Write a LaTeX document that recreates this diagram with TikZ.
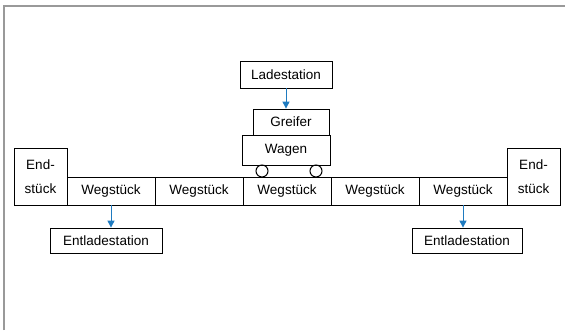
\documentclass[tikz,border=0pt]{standalone}
\usepackage{fontspec}
\setmainfont{Liberation Sans}
\usepackage{tikz}
\usetikzlibrary{positioning,arrows.meta,calc}

\definecolor{pfeilblau}{HTML}{1F7BC0}
\tikzset{
  kasten/.style={draw, line width=0.8pt, inner sep=0pt, align=center,
    font=\fontsize{13.5}{24}\selectfont},
  pfeil/.style={-{Triangle[width=7pt,length=7pt]}, pfeilblau, line width=1pt},
}

\begin{document}
\begin{tikzpicture}[x=1pt, y=-1pt]
  \useasboundingbox (0,0) rectangle (565,330);
  \draw[gray!80, line width=1.5pt] (4,330) -- (4,6) -- (565,6);

  % Fahrweg
  \node[kasten, minimum width=53pt, minimum height=57pt] (endL) at (40.5,176.5) {End-\\stück};
  \foreach \i in {1,...,5} {
    \node[kasten, minimum width=88pt, minimum height=28pt] (weg\i) at ({23+88*\i},191) {Wegstück};
  }
  \node[kasten, minimum width=53pt, minimum height=57pt] (endR) at (533.5,176.5) {End-\\stück};

  % Wagen mit Greifer
  \node[kasten, minimum width=88pt, minimum height=30pt] (wagen) at (286,150) {Wagen};
  \node[kasten, minimum width=76pt, minimum height=26pt] (greif) at (291,122) {Greifer};
  \node[kasten, minimum width=92pt, minimum height=27pt] (lade) at (286,74.5) {Ladestation};
  \draw[line width=1pt] (262,171) circle (6pt) (316,171) circle (6pt);

  % Entladestationen
  \node[kasten, minimum width=112pt, minimum height=25pt] (entL) at (106,240.5) {Entladestation};
  \node[kasten, minimum width=110pt, minimum height=25pt] (entR) at (467,240.5) {Entladestation};

  \draw[pfeil] (lade.south) -- (lade.south |- greif.north);
  \draw[pfeil] (weg1.south) -- (weg1.south |- entL.north);
  \draw[pfeil] (weg5.south) -- (weg5.south |- entR.north);
\end{tikzpicture}
\end{document}
